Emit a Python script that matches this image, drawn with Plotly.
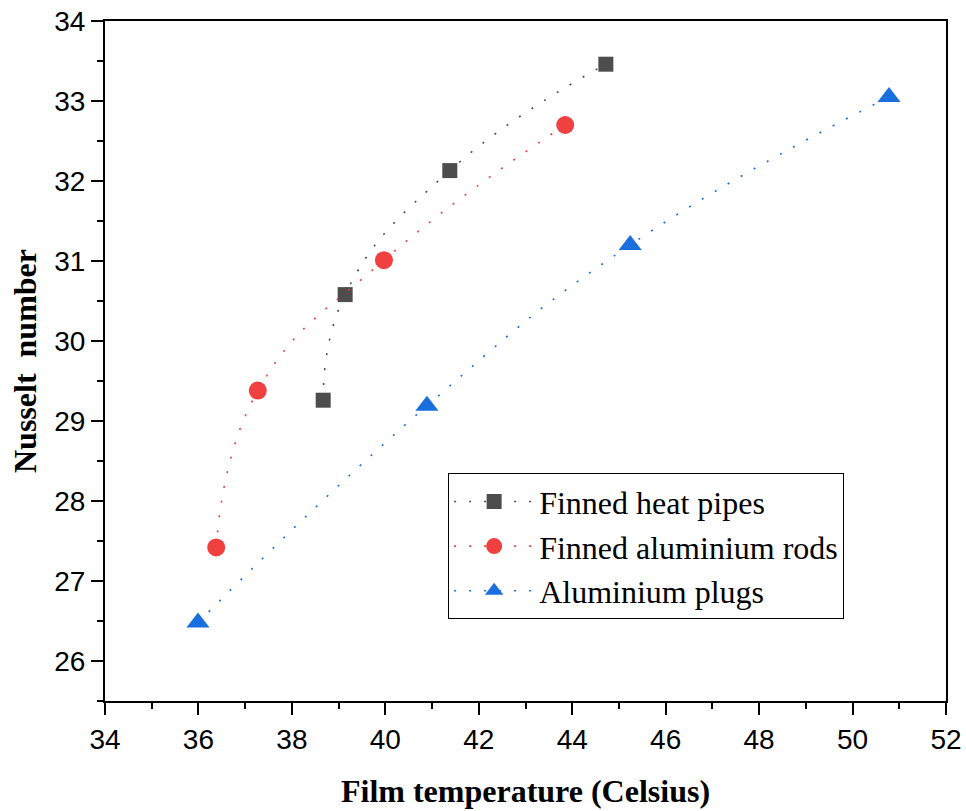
import plotly.graph_objects as go

hp_x = [38.67, 39.14, 41.38, 44.72]
hp_y = [29.26, 30.58, 32.13, 33.46]
rod_x = [36.38, 37.27, 39.97, 43.85]
rod_y = [27.42, 29.38, 31.01, 32.70]
plug_x = [35.99, 40.89, 45.24, 50.78]
plug_y = [26.48, 29.19, 31.20, 33.05]

names = ["Finned heat pipes", "Finned aluminium rods", "Aluminium plugs"]
colors = ["#4d4d4d", "#f04040", "#1a6fdf"]
symbols = ["square", "circle", "triangle-up"]
sizes = [15, 18, 20]

fig = go.Figure()
for i, (xs, ys) in enumerate([(hp_x, hp_y), (rod_x, rod_y), (plug_x, plug_y)]):
    fig.add_trace(go.Scatter(
        x=xs, y=ys, name=names[i], mode="lines+markers",
        legendgroup=str(i),
        line=dict(color=colors[i], width=1.6, dash="2px,13px", shape="spline", smoothing=1.3),
        marker=dict(symbol=symbols[i], color=colors[i], size=sizes[i],
                    line=dict(width=0)),
    ))

axis_common = dict(
    showline=True, linecolor="black", linewidth=2, mirror=True,
    ticks="outside", ticklen=12, tickwidth=2, tickcolor="black",
    showgrid=False, zeroline=False, automargin=False,
    tickfont=dict(family="Liberation Sans, Arial", size=28, color="black"),
)
fig.update_xaxes(range=[34, 52], tickvals=list(range(34, 53, 2)),
                 minor=dict(tickvals=list(range(35, 52, 2)), ticks="outside", ticklen=6, tickwidth=2, tickcolor="black"),
                 title=dict(text="<b>Film temperature (Celsius)</b>", standoff=26,
                            font=dict(family="Liberation Serif, Times New Roman", size=32, color="black")),
                 **axis_common)
fig.update_yaxes(range=[25.5, 34], tickvals=list(range(26, 35)),
                 minor=dict(tickvals=[25.5 + k for k in range(9)], ticks="outside", ticklen=6, tickwidth=2, tickcolor="black"),
                 title=dict(text="<b>Nusselt  number</b>", standoff=8,
                            font=dict(family="Liberation Serif, Times New Roman", size=32, color="black")),
                 **axis_common)

fig.update_layout(
    width=966, height=811,
    margin=dict(l=105, r=20, t=21, b=110),
    plot_bgcolor="white", paper_bgcolor="white",
    legend=dict(x=0.408, y=0.335, xanchor="left", yanchor="top",
                bordercolor="black", borderwidth=1, bgcolor="white",
                font=dict(family="Liberation Serif, Times New Roman", size=32, color="black"),
                itemwidth=80, tracegroupgap=0, traceorder="grouped"),
)
fig.write_html("out.html")
